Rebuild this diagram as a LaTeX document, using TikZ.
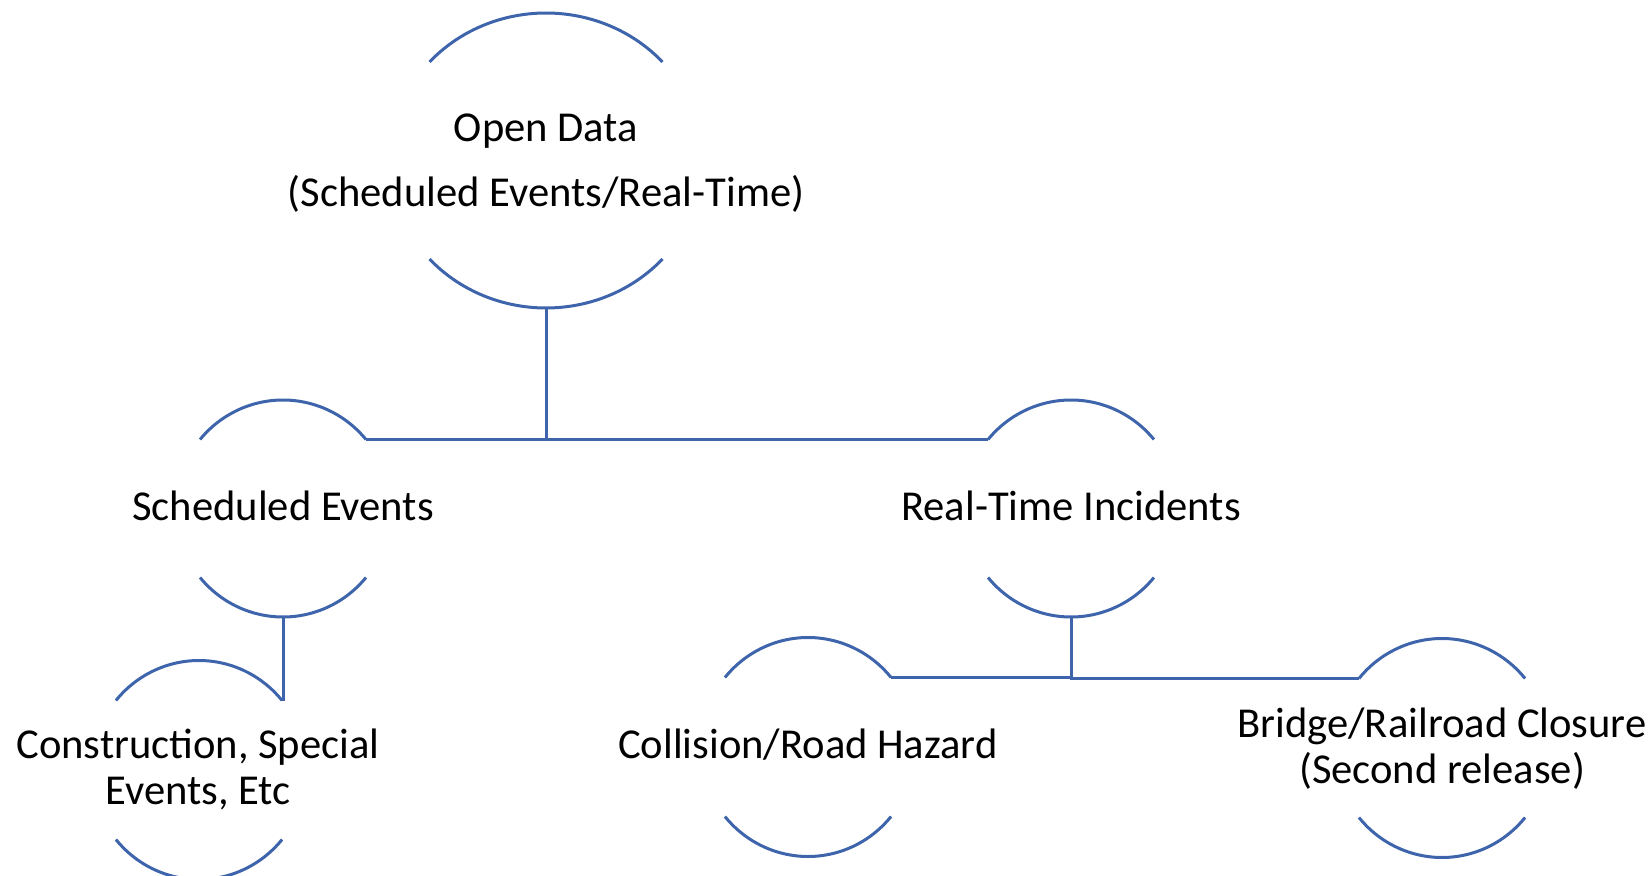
\documentclass[tikz,border=0pt]{standalone}
\usepackage{fontspec}
\setmainfont{Carlito}
\usetikzlibrary{calc}
\definecolor{capblue}{RGB}{62,100,172}
\tikzset{
  capline/.style={draw=capblue, line width=1.5pt},
  lbl/.style={inner sep=0pt, anchor=base, text=black, font=\fontsize{21.3}{23}\selectfont},
  lblwide/.style={lbl, font=\fontsize{21.3}{32.5}\selectfont},
}
\newcommand\capnode[6]{%
  \coordinate (#1) at (#2,#3);
  \coordinate (#1-tl) at ($(#1)+({-#4*cos(#6)},{-#5*sin(#6)})$);
  \coordinate (#1-tr) at ($(#1)+({#4*cos(#6)},{-#5*sin(#6)})$);
  \coordinate (#1-bl) at ($(#1)+({-#4*cos(#6)},{#5*sin(#6)})$);
  \coordinate (#1-br) at ($(#1)+({#4*cos(#6)},{#5*sin(#6)})$);
  \coordinate (#1-t) at ($(#1)+(0,-#5)$);
  \coordinate (#1-b) at ($(#1)+(0,#5)$);
  \draw[capline] (#1-tl) arc[start angle={180+#6}, end angle={360-#6}, x radius=#4, y radius=#5];
  \draw[capline] (#1-bl) arc[start angle={180-#6}, end angle={#6}, x radius=#4, y radius=#5];
}
\begin{document}
\begin{tikzpicture}[x=0.5pt,y=-0.5pt]
\useasboundingbox (0,0) rectangle (1652,876);
% circles (top and bottom caps)
\capnode{od}{546}{160.5}{156.5}{147.5}{41.9}
\capnode{se}{283}{508.5}{107.5}{108.5}{39.5}
\capnode{rt}{1071}{508.5}{107.5}{108.5}{39.5}
\capnode{co}{199}{770}{107.5}{109.5}{39.4}
\capnode{cl}{808}{747}{107.5}{109.5}{39.4}
\capnode{br}{1442}{748}{107.5}{109.5}{39.4}
% labels
\node[lblwide] (odt) at (546,142) {\begin{tabular}[t]{@{}c@{}}Open Data\\(Scheduled Events/Real-Time)\end{tabular}};
\node[lbl] (set) at (283,520) {Scheduled Events};
\node[lbl] (rtt) at (1071,520) {Real-Time Incidents};
\node[lbl] (cot) at (198,758) {\begin{tabular}[t]{@{}c@{}}Construction, Special\\Events, Etc\end{tabular}};
\node[lbl] (clt) at (808,758) {Collision/Road Hazard};
\node[lbl] (brt) at (1442,737) {\begin{tabular}[t]{@{}c@{}}Bridge/Railroad Closure\\(Second release)\end{tabular}};
% connectors
\draw[capline] (od-b) -- (od-b |- se-tr);
\draw[capline] (se-tr) -- (rt-tl);
\draw[capline] (se-b) -- (se-b |- co-tr);
\draw[capline] (rt-b) |- (cl-tr);
\draw[capline] (rt-b |- cl-tr) |- (br-tl);
\end{tikzpicture}
\end{document}
